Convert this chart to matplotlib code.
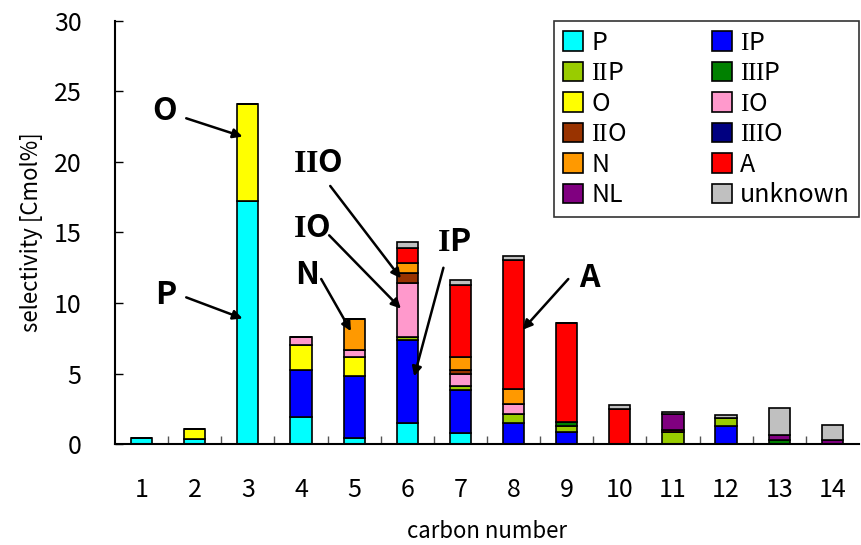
import numpy as np
import matplotlib.pyplot as plt
from matplotlib.patches import Patch

plt.rcParams['font.family'] = ['Noto Sans CJK JP', 'DejaVu Sans']
# roman numerals in the group names are set in a serif face
plt.rcParams['mathtext.fontset'] = 'custom'
plt.rcParams['mathtext.rm'] = 'Liberation Serif'
plt.rcParams['mathtext.bf'] = 'Liberation Serif:bold'

carbon = np.arange(1, 15)

# selectivity [Cmol%] per group, carbon number 1..14
P       = [0.40, 0.35, 17.2, 1.90, 0.45, 1.50, 0.80, 0.00, 0.00, 0.00, 0.00, 0.00, 0.00, 0.00]
IP      = [0.00, 0.00, 0.00, 3.35, 4.40, 5.85, 3.00, 1.50, 0.85, 0.00, 0.00, 1.25, 0.00, 0.00]
IIP     = [0.00, 0.00, 0.00, 0.00, 0.00, 0.25, 0.30, 0.60, 0.40, 0.00, 0.85, 0.60, 0.00, 0.00]
IIIP    = [0.00, 0.00, 0.00, 0.00, 0.00, 0.00, 0.00, 0.00, 0.30, 0.00, 0.00, 0.00, 0.30, 0.00]
O       = [0.00, 0.70, 6.90, 1.75, 1.30, 0.00, 0.00, 0.00, 0.00, 0.00, 0.00, 0.00, 0.00, 0.00]
IO      = [0.00, 0.00, 0.00, 0.60, 0.55, 3.85, 0.90, 0.75, 0.00, 0.00, 0.00, 0.00, 0.00, 0.00]
IIO     = [0.00, 0.00, 0.00, 0.00, 0.00, 0.70, 0.25, 0.00, 0.00, 0.00, 0.00, 0.00, 0.00, 0.00]
IIIO    = [0.00, 0.00, 0.00, 0.00, 0.00, 0.00, 0.00, 0.00, 0.00, 0.00, 0.00, 0.00, 0.00, 0.00]
N       = [0.00, 0.00, 0.00, 0.00, 2.15, 0.70, 0.95, 1.05, 0.00, 0.00, 0.00, 0.00, 0.00, 0.00]
A       = [0.00, 0.00, 0.00, 0.00, 0.00, 1.05, 5.10, 9.15, 7.05, 2.50, 0.15, 0.00, 0.00, 0.00]
NL      = [0.00, 0.00, 0.00, 0.00, 0.00, 0.00, 0.00, 0.00, 0.00, 0.00, 1.15, 0.00, 0.35, 0.30]
unknown = [0.00, 0.00, 0.00, 0.00, 0.00, 0.40, 0.30, 0.25, 0.00, 0.25, 0.15, 0.20, 1.90, 1.05]

groups = ['P', r'$\mathrm{I}$P', r'$\mathrm{II}$P', r'$\mathrm{III}$P', 'O',
          r'$\mathrm{I}$O', r'$\mathrm{II}$O', r'$\mathrm{III}$O', 'N', 'A', 'NL', 'unknown']
series = [P, IP, IIP, IIIP, O, IO, IIO, IIIO, N, A, NL, unknown]
colors = ['#00FFFF', '#0000FF', '#99CC00', '#008000', '#FFFF00', '#FF99CC',
          '#993300', '#000080', '#FF9900', '#FF0000', '#800080', '#C0C0C0']

fig = plt.figure(figsize=(8.61, 5.45), dpi=100)
ax = fig.add_axes([0.1336, 0.1853, 0.864, 0.7762])

bottom = np.zeros(len(carbon))
for vals, c in zip(series, colors):
    vals = np.array(vals)
    ax.bar(carbon, vals, width=0.4, bottom=bottom, color=c,
           edgecolor='black', linewidth=1.2)
    bottom += vals

ax.set_xlim(0.5, 14.5)
ax.set_ylim(0, 30)
ax.set_yticks(np.arange(0, 31, 5))
ax.set_xticks(carbon)
ax.set_xticks(carbon[:-1] + 0.5, minor=True)
ax.tick_params(axis='y', direction='in', length=6, width=1, labelsize=18, pad=24)
ax.tick_params(axis='x', which='major', length=0, labelsize=18, pad=24)
ax.tick_params(axis='x', which='minor', direction='in', length=6, width=1, color='#555555')
for s in ['top', 'right']:
    ax.spines[s].set_visible(False)
for s in ['left', 'bottom']:
    ax.spines[s].set_linewidth(1.5)

ax.set_ylabel('selectivity [Cmol%]', fontsize=16, labelpad=8)
ax.set_xlabel('carbon number', fontsize=16, labelpad=12)

# legend filled row by row: P, IP / IIP, IIIP / ...
order = [0, 2, 4, 6, 8, 10, 1, 3, 5, 7, 9, 11]
handles = [Patch(facecolor=colors[i], edgecolor='black', linewidth=1.2, label=groups[i])
           for i in order]
leg = ax.legend(handles=handles, ncol=2, loc='upper right', bbox_to_anchor=(1.0, 1.0),
                borderaxespad=0, fontsize=18, frameon=True, fancybox=False,
                handlelength=0.8, handleheight=0.8, handletextpad=0.35,
                labelspacing=0.18, columnspacing=3.4, borderpad=0.35)
leg.get_frame().set_edgecolor('black')
leg.get_frame().set_linewidth(1.2)

arrow = dict(arrowstyle='-|>', color='black', lw=1.8, mutation_scale=14,
             shrinkA=0, shrinkB=0)
labels = [
    # text, text pos, arrow tail, arrow head
    ('O', (1.43, 23.6), (1.84, 23.1), (2.90, 21.8)),
    ('P', (1.46, 10.6), (1.84, 10.4), (2.90, 8.9)),
    ('N', (4.12, 12.0), (4.38, 11.7), (4.94, 8.0)),
    (r'$\mathbf{I}$O', (4.20, 15.3), (4.53, 14.8), (5.88, 9.6)),
    (r'$\mathbf{II}$O', (4.31, 19.9), (4.55, 18.3), (5.88, 11.75)),
    (r'$\mathbf{I}$P', (6.88, 14.3), (6.68, 12.5), (6.13, 4.8)),
    ('A', (9.42, 11.8), (9.03, 11.7), (8.17, 8.1)),
]
for txt, tpos, tail, head in labels:
    ax.text(tpos[0], tpos[1], txt, fontsize=23, fontweight='bold',
            ha='center', va='center')
    ax.annotate('', xy=head, xytext=tail, arrowprops=arrow)

fig.savefig('out.png', dpi=100)
